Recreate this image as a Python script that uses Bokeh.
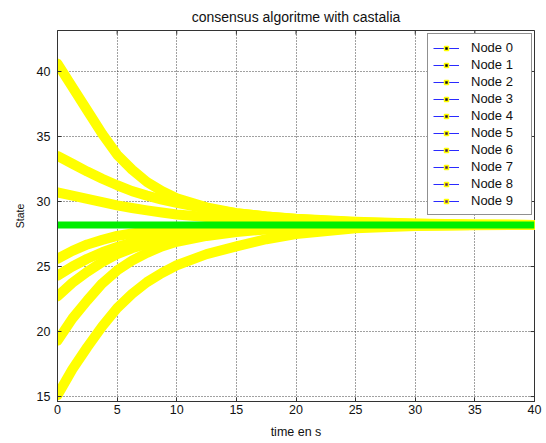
import math
from bokeh.plotting import figure
from bokeh.models import Range1d, Legend, LegendItem, FixedTicker
from bokeh.embed import file_html
from bokeh.resources import INLINE

# ---- data ----
time_s = [0, 1.25, 2.5, 3.75, 5, 6.25, 7.5, 8.75, 10, 12.5, 15, 17.5, 20, 25, 30, 35, 40]
curve_a = [40.6, 38.8, 37.0, 35.2, 33.6, 32.45, 31.5, 30.8, 30.25, 29.55, 29.1, 28.85, 28.65, 28.4, 28.28, 28.22, 28.2]
curve_b = [33.5, 32.9, 32.3, 31.75, 31.25, 30.8, 30.45, 30.15, 29.9, 29.45, 29.1, 28.85, 28.67, 28.45, 28.3, 28.24, 28.2]
curve_c = [30.7, 30.45, 30.2, 29.95, 29.7, 29.5, 29.32, 29.15, 29.0, 28.8, 28.65, 28.53, 28.45, 28.33, 28.26, 28.22, 28.2]
curve_d = [25.6, 26.2, 26.7, 27.05, 27.35, 27.55, 27.7, 27.83, 27.93, 28.05, 28.1, 28.14, 28.16, 28.18, 28.2, 28.2, 28.2]
curve_e = [24.3, 25.0, 25.6, 26.1, 26.5, 26.85, 27.1, 27.32, 27.5, 27.75, 27.9, 28.0, 28.07, 28.14, 28.18, 28.2, 28.2]
curve_f = [22.7, 23.75, 24.6, 25.35, 25.95, 26.4, 26.75, 27.05, 27.3, 27.6, 27.8, 27.95, 28.03, 28.12, 28.17, 28.2, 28.2]
curve_g = [19.3, 21.0, 22.4, 23.7, 24.7, 25.45, 26.05, 26.55, 26.9, 27.35, 27.65, 27.85, 27.98, 28.1, 28.17, 28.2, 28.2]
curve_h = [15.1, 17.1, 18.8, 20.4, 21.8, 22.9, 23.8, 24.5, 25.1, 25.95, 26.55, 27.1, 27.5, 27.95, 28.12, 28.18, 28.2]
consensus_x = [0, 40]
consensus_y = [28.2, 28.2]

x_ticks = [0, 5, 10, 15, 20, 25, 30, 35, 40]
y_ticks = [15, 20, 25, 30, 35, 40]

node_labels = ["Node 0", "Node 1", "Node 2", "Node 3", "Node 4",
               "Node 5", "Node 6", "Node 7", "Node 8", "Node 9"]
marker_colors = ["#000000", "#0a0a0a", "#141014", "#1e121e", "#2a142a",
                 "#361836", "#441c44", "#502050", "#5c245c", "#682868"]

FONT = "Liberation Sans"
X_MIN, X_MAX = 0, 40
Y_MIN, Y_MAX = 14.62, 43.15

p = figure(width=546, height=443, output_backend="svg", toolbar_location=None,
           x_range=Range1d(X_MIN, X_MAX), y_range=Range1d(Y_MIN, Y_MAX),
           min_border_left=57, min_border_right=12, min_border_top=30, min_border_bottom=42,
           title="consensus algoritme with castalia")
p.background_fill_color = "white"
p.border_fill_color = "white"
p.outline_line_color = "#333333"
p.outline_line_width = 1

p.title.align = "center"
p.title.text_font = FONT
p.title.text_font_size = "14px"
p.title.text_font_style = "normal"
p.title.text_color = "#111111"
p.title.standoff = 11

# axes
p.xaxis.ticker = FixedTicker(ticks=x_ticks)
p.yaxis.ticker = FixedTicker(ticks=y_ticks)
for ax in (p.xaxis[0], p.yaxis[0]):
    ax.major_tick_in = 4
    ax.major_tick_out = 0
    ax.minor_tick_line_color = None
    ax.axis_line_color = "#333333"
    ax.major_tick_line_color = "#333333"
    ax.major_label_text_font = FONT
    ax.major_label_text_font_size = "12.5px"
    ax.major_label_text_color = "#111111"
    ax.axis_label_text_font = FONT
    ax.axis_label_text_font_style = "normal"
    ax.axis_label_text_color = "#111111"

p.xaxis.axis_label = "time en s"
p.xaxis.axis_label_text_font_size = "12.5px"
p.xaxis.major_label_standoff = 3
p.xaxis.axis_label_standoff = 8
p.yaxis.axis_label = "State"
p.yaxis.axis_label_text_font_size = "10.5px"
p.yaxis.major_label_standoff = 7
p.yaxis.axis_label_standoff = 8

# grid
for g in (p.xgrid[0], p.ygrid[0]):
    g.grid_line_color = "#222222"
    g.grid_line_dash = "1 2"
    g.grid_line_width = 1
    g.grid_line_alpha = 0.85

# curves
for ys in (curve_a, curve_b, curve_c, curve_d, curve_e, curve_f, curve_g, curve_h):
    p.line(time_s, ys, line_color="#ffff00", line_width=10,
           line_join="round", line_cap="round")
p.line(consensus_x, consensus_y, line_color="#00ee00", line_width=7)

# mirrored inward ticks on top and right edges (half of each dash is clipped by the frame)
p.scatter(x_ticks, [Y_MAX] * len(x_ticks), marker="dash", angle=math.pi / 2,
          size=8, line_color="#333333", line_width=1)
p.scatter([X_MAX] * len(y_ticks), y_ticks, marker="dash",
          size=8, line_color="#333333", line_width=1)

# legend (renderers with no visible data)
nan = float("nan")
items = []
for lab, mc in zip(node_labels, marker_colors):
    r1 = p.line([nan, nan], [nan, nan], line_color="#2a2aff", line_width=1)
    r2 = p.scatter([nan], [nan], marker="square", size=4, fill_color=mc,
                   line_color="#ffff00", line_width=1.5)
    items.append(LegendItem(label=lab, renderers=[r1, r2]))

legend = Legend(items=items, location=(370, 186))
legend.label_text_font = FONT
legend.label_text_font_size = "13px"
legend.label_text_color = "#111111"
legend.glyph_width = 26
legend.glyph_height = 10
legend.label_height = 17
legend.label_width = 55
legend.label_standoff = 12
legend.spacing = 0
legend.padding = 5
legend.margin = 0
legend.border_line_color = "#222222"
legend.border_line_width = 1
legend.background_fill_color = "white"
legend.background_fill_alpha = 1
p.add_layout(legend, "center")

open("out.html", "w").write(file_html(p, INLINE))
